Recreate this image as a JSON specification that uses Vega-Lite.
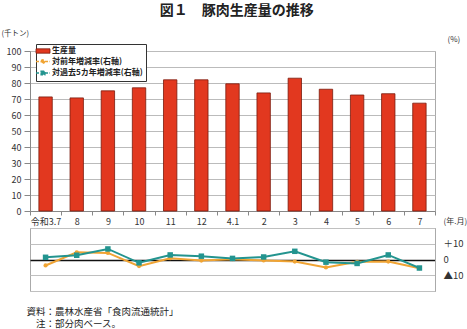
{
  "$schema": "https://vega.github.io/schema/vega-lite/v6.json",
  "padding": {"left": 0, "top": 3, "right": 0, "bottom": 0},
  "background": "white",
  "config": {
    "font": "Noto Sans CJK JP",
    "axis": {"labelFont": "Noto Sans CJK JP", "titleFont": "Noto Sans CJK JP"},
    "legend": {"labelFont": "Noto Sans CJK JP"}
  },
  "title": {"text": "図１　豚肉生産量の推移", "fontSize": 14, "fontWeight": "bold", "offset": 11, "anchor": "middle", "dx": 3, "color": "#222", "font": "Noto Sans CJK JP"},
  "datasets": {
    "prod": [
      {"month": "令和3.7", "series": "生産量", "value": 71.3},
      {"month": "8", "series": "生産量", "value": 70.7},
      {"month": "9", "series": "生産量", "value": 75.1},
      {"month": "10", "series": "生産量", "value": 77.0},
      {"month": "11", "series": "生産量", "value": 82.0},
      {"month": "12", "series": "生産量", "value": 82.0},
      {"month": "4.1", "series": "生産量", "value": 79.5},
      {"month": "2", "series": "生産量", "value": 73.8},
      {"month": "3", "series": "生産量", "value": 83.0},
      {"month": "4", "series": "生産量", "value": 76.1},
      {"month": "5", "series": "生産量", "value": 72.5},
      {"month": "6", "series": "生産量", "value": 73.3},
      {"month": "7", "series": "生産量", "value": 67.4}
    ],
    "rate": [
      {"month": "令和3.7", "series": "対前年増減率(右軸)", "value": -3.8},
      {"month": "8", "series": "対前年増減率(右軸)", "value": 4.6},
      {"month": "9", "series": "対前年増減率(右軸)", "value": 4.2},
      {"month": "10", "series": "対前年増減率(右軸)", "value": -4.2},
      {"month": "11", "series": "対前年増減率(右軸)", "value": 0.8},
      {"month": "12", "series": "対前年増減率(右軸)", "value": -0.7},
      {"month": "4.1", "series": "対前年増減率(右軸)", "value": 0.2},
      {"month": "2", "series": "対前年増減率(右軸)", "value": -0.6},
      {"month": "3", "series": "対前年増減率(右軸)", "value": -1.3},
      {"month": "4", "series": "対前年増減率(右軸)", "value": -5.0},
      {"month": "5", "series": "対前年増減率(右軸)", "value": -1.5},
      {"month": "6", "series": "対前年増減率(右軸)", "value": -1.3},
      {"month": "7", "series": "対前年増減率(右軸)", "value": -5.6},
      {"month": "令和3.7", "series": "対過去5カ年増減率(右軸)", "value": 1.4},
      {"month": "8", "series": "対過去5カ年増減率(右軸)", "value": 2.7},
      {"month": "9", "series": "対過去5カ年増減率(右軸)", "value": 6.7},
      {"month": "10", "series": "対過去5カ年増減率(右軸)", "value": -2.1},
      {"month": "11", "series": "対過去5カ年増減率(右軸)", "value": 2.9},
      {"month": "12", "series": "対過去5カ年増減率(右軸)", "value": 2.1},
      {"month": "4.1", "series": "対過去5カ年増減率(右軸)", "value": 0.7},
      {"month": "2", "series": "対過去5カ年増減率(右軸)", "value": 1.6},
      {"month": "3", "series": "対過去5カ年増減率(右軸)", "value": 5.2},
      {"month": "4", "series": "対過去5カ年増減率(右軸)", "value": -1.7},
      {"month": "5", "series": "対過去5カ年増減率(右軸)", "value": -2.5},
      {"month": "6", "series": "対過去5カ年増減率(右軸)", "value": 2.9},
      {"month": "7", "series": "対過去5カ年増減率(右軸)", "value": -5.4}
    ]
  },
  "spacing": 17,
  "bounds": "flush",
  "resolve": {"scale": {"color": "independent"}, "legend": {"color": "independent"}},
  "vconcat": [
    {
      "width": 405,
      "height": 160,
      "data": {"name": "prod"},
      "view": {"stroke": "#aaaaaa"},
      "mark": {"type": "bar", "width": {"band": 0.43}, "stroke": "#7a1a0c", "strokeWidth": 0.8},
      "encoding": {
        "x": {
          "field": "month", "type": "nominal",
          "sort": ["令和3.7", "8", "9", "10", "11", "12", "4.1", "2", "3", "4", "5", "6", "7"],
          "scale": {"paddingInner": 0, "paddingOuter": 0},
          "axis": {
            "title": "(年.月)", "titleX": 413, "titleY": 10, "titleAlign": "left", "titleBaseline": "middle",
            "titleFontSize": 8, "titleFontWeight": "normal", "titleColor": "#333",
            "labelAngle": 0, "labelFontSize": 9, "labelColor": "#333", "tickBand": "extent",
            "tickSize": 4, "tickColor": "#888888", "domainColor": "#888888", "labelPadding": 2, "grid": false
          }
        },
        "y": {
          "field": "value", "type": "quantitative",
          "scale": {"domain": [0, 100]},
          "axis": {
            "values": [0, 10, 20, 30, 40, 50, 60, 70, 80, 90, 100],
            "grid": true, "gridColor": "#bbbbbb", "domainColor": "#888888", "tickColor": "#888888",
            "tickSize": 6, "labelPadding": 3, "labelFontSize": 9, "labelColor": "#333",
            "title": "(千トン)", "titleAngle": 0, "titleX": -29, "titleY": -18, "titleAlign": "left",
            "titleBaseline": "middle", "titleFontSize": 7.5, "titleFontWeight": "normal", "titleColor": "#333"
          }
        },
        "color": {
          "field": "series", "type": "nominal",
          "scale": {
            "domain": ["生産量", "対前年増減率(右軸)", "対過去5カ年増減率(右軸)"],
            "range": ["#e2381f", "#f0a434", "#23948f"]
          },
          "legend": {
            "orient": "none", "legendX": 6, "legendY": -7, "title": null, "direction": "vertical",
            "strokeColor": "#333333", "fillColor": "#ffffff", "padding": 3, "rowPadding": 1.5,
            "labelFontSize": 8, "labelFontWeight": "bold", "labelColor": "#222", "labelOffset": 5,
            "symbolSize": 64, "symbolStrokeWidth": 1.5,
            "values": ["生産量", "対前年増減率(右軸)", "対過去5カ年増減率(右軸)"],
            "encoding": {
              "symbols": {
                "shape": {"value": {"expr": "datum.value === '生産量' ? 'M-1.75,-0.55H1.75V0.55H-1.75Z' : (datum.value === '対前年増減率(右軸)' ? 'M-1.75,0H1.75M-0.4,0A0.4,0.4,0,1,1,0.4,0A0.4,0.4,0,1,1,-0.4,0Z' : 'M-1.75,0H1.75M-0.45,-0.45H0.45V0.45H-0.45Z')"}},
                "fill": {"value": {"expr": "datum.value === '生産量' ? '#e2381f' : (datum.value === '対前年増減率(右軸)' ? '#f0a434' : '#23948f')"}},
                "stroke": {"value": {"expr": "datum.value === '生産量' ? '#7a1a0c' : (datum.value === '対前年増減率(右軸)' ? '#f0a434' : '#23948f')"}},
                "strokeWidth": {"value": {"expr": "datum.value === '生産量' ? 0.8 : 1.6"}},
                "strokeDash": {"value": {"expr": "datum.value === '生産量' ? [] : [3, 1.5]"}}
              }
            }
          }
        }
      }
    },
    {
      "width": 405,
      "height": 63,
      "data": {"name": "rate"},
      "view": {"stroke": "#aaaaaa"},
      "encoding": {
        "x": {
          "field": "month", "type": "nominal",
          "sort": ["令和3.7", "8", "9", "10", "11", "12", "4.1", "2", "3", "4", "5", "6", "7"],
          "scale": {"paddingInner": 0, "paddingOuter": 0},
          "axis": {
            "labels": false, "ticks": false, "domain": false, "grid": false,
            "title": ["資料：農林水産省「食肉流通統計」", "\u200b\u3000注：部分肉ベース。"],
            "titleX": -4, "titleY": 15, "titleAlign": "left", "titleBaseline": "top", "titleAnchor": "start",
            "titleFontSize": 9.5, "titleFontWeight": "normal", "titleColor": "#222", "titleLineHeight": 12.5
          }
        },
        "y": {
          "field": "value", "type": "quantitative",
          "scale": {"domain": [-20, 20]},
          "axis": {
            "orient": "right", "values": [-20, -10, 0, 10, 20],
            "labelExpr": "datum.value == 10 ? '＋10' : (datum.value == 0 ? '0' : (datum.value == -10 ? '▲10' : ''))",
            "grid": true,
            "gridColor": {"condition": {"test": "datum.value === 0", "value": "#111111"}, "value": "#c0c0c0"},
            "gridWidth": {"condition": {"test": "datum.value === 0", "value": 1.6}, "value": 1},
            "domain": true, "domainColor": "#aaaaaa", "ticks": false, "labelPadding": 8,
            "labelFontSize": 9.5, "labelColor": "#333",
            "title": "(%)", "titleAngle": 0, "titleX": 12, "titleY": -189, "titleAlign": "left",
            "titleBaseline": "middle", "titleFontSize": 8, "titleFontWeight": "normal", "titleColor": "#333"
          }
        }
      },
      "layer": [
        {
          "transform": [{"filter": "datum.series === '対前年増減率(右軸)'"}],
          "mark": {"type": "line", "color": "#f0a434", "strokeWidth": 2,
                   "point": {"shape": "circle", "size": 18, "filled": true, "color": "#f0a434"}}
        },
        {
          "transform": [{"filter": "datum.series === '対過去5カ年増減率(右軸)'"}],
          "mark": {"type": "line", "color": "#23948f", "strokeWidth": 2,
                   "point": {"shape": "square", "size": 30, "filled": true, "color": "#23948f"}}
        }
      ]
    }
  ]
}
